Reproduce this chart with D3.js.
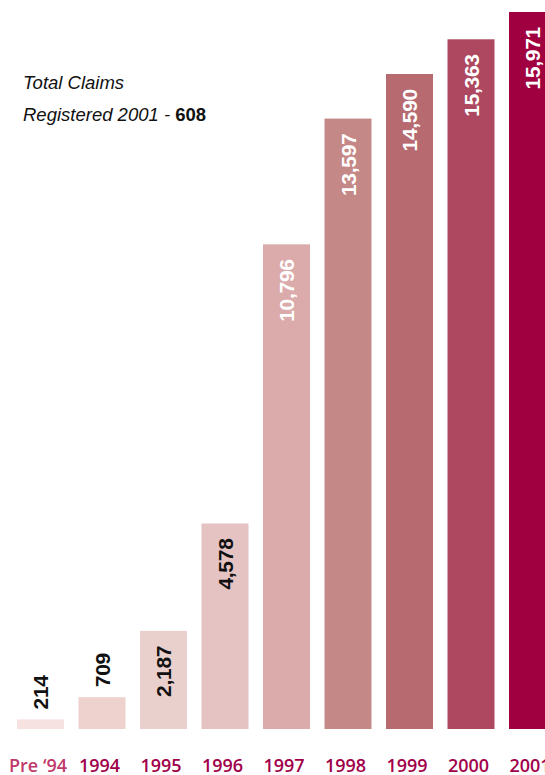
<!DOCTYPE html>
<html>
<head>
<meta charset="utf-8">
<script src="https://cdn.jsdelivr.net/npm/d3@7"></script>
<style>
  body { margin: 0; background: #fff; }
  svg { display: block; }
</style>
</head>
<body>
<div id="chart"></div>
<script>
const width = 545;
const height = 775;

// data
const years = ["Pre \u201894", "1994", "1995", "1996", "1997", "1998", "1999", "2000", "2001"];
const claims = [214, 709, 2187, 4578, 10796, 13597, 14590, 15363, 15971];
const barColors = ["#f5e2e1", "#edd2ce", "#ead0cc", "#e5c3c3", "#dbabab", "#c48886", "#b86a71", "#ad4860", "#a0003f"];
const labelColors = ["#c0396b", "#a0004a", "#a0004a", "#a0004a", "#a0004a", "#a0004a", "#a0004a", "#a0004a", "#a0004a"];
const titleLines = ["Total Claims", "Registered 2001 - "];
const titleValue = 608;

const data = years.map((y, i) => ({ year: y, value: claims[i], color: barColors[i], labelColor: labelColors[i] }));

const svg = d3.select("#chart")
  .append("svg")
    .attr("width", width)
    .attr("height", height);

const x = d3.scaleBand()
    .domain(years)
    .range([17, 556])
    .paddingInner(0.236)
    .paddingOuter(0);

const y = d3.scaleLinear()
    .domain([0, 16000])
    .range([729, 10.7]);

const fmt = d3.format(",");

svg.selectAll("rect.bar")
  .data(data)
  .enter()
  .append("rect")
    .attr("class", "bar")
    .attr("x", d => x(d.year))
    .attr("y", d => y(d.value))
    .attr("width", x.bandwidth())
    .attr("height", d => y(0) - y(d.value))
    .attr("fill", d => d.color);

// value labels, rotated; inside the bar when there is room
svg.selectAll("text.value")
  .data(data)
  .enter()
  .append("text")
    .attr("class", "value")
    .attr("transform", d => {
        const inside = y(0) - y(d.value) > 80;
        const ty = inside ? y(d.value) + 15 : y(d.value) - 10;
        return `translate(${x(d.year) + x.bandwidth() / 2},${ty}) rotate(-90)`;
    })
    .attr("dy", "0.36em")
    .attr("text-anchor", d => (y(0) - y(d.value) > 80) ? "end" : "start")
    .style("font-family", "'Liberation Sans', Arial, sans-serif")
    .style("font-weight", "bold")
    .style("font-size", "21px")
    .style("letter-spacing", "-0.3px")
    .style("fill", d => d3.hsl(d.color).l < 0.8 ? "#fff" : "#111")
    .text(d => fmt(d.value));

// year labels under each bar (the last one runs off the right edge)
svg.selectAll("text.year")
  .data(data)
  .enter()
  .append("text")
    .attr("class", "year")
    .attr("x", d => x(d.year) + x.bandwidth() / 2 - 2.5)
    .attr("y", 772)
    .attr("text-anchor", "middle")
    .style("font-family", "'Open Sans', sans-serif")
    .style("font-weight", 600)
    .style("font-size", "18px")
    .style("fill", d => d.labelColor)
    .text(d => d.year);

const title = svg.append("g")
    .style("font-family", "'Liberation Sans', Arial, sans-serif")
    .style("font-size", "18.5px")
    .style("fill", "#111");

title.append("text")
    .attr("x", 23)
    .attr("y", 89)
    .style("font-style", "italic")
    .text(titleLines[0]);

const t2 = title.append("text")
    .attr("x", 23)
    .attr("y", 121);
t2.append("tspan")
    .style("font-style", "italic")
    .text(titleLines[1]);
t2.append("tspan")
    .style("font-weight", "bold")
    .text(titleValue);
</script>
</body>
</html>
